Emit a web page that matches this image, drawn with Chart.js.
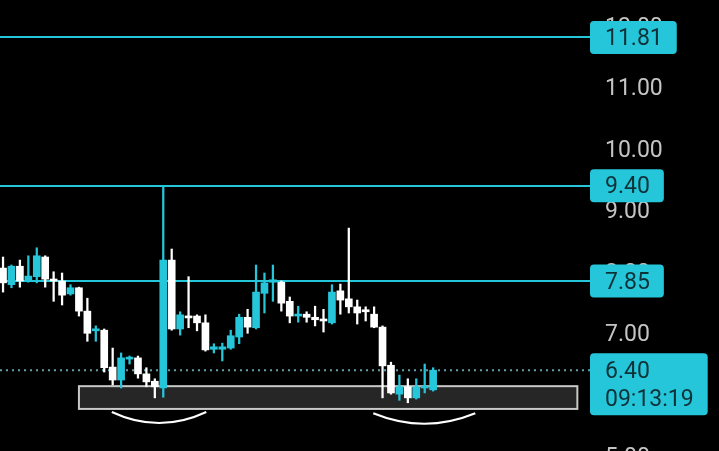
<!DOCTYPE html>
<html>
<head>
<meta charset="utf-8">
<script src="https://cdn.jsdelivr.net/npm/chart.js@4/dist/chart.umd.min.js"></script>
<style>
  html, body { margin: 0; padding: 0; background: #000; overflow: hidden; }
</style>
</head>
<body>
<canvas id="chart" width="719" height="470"></canvas>
<script>
// candles, oldest first
const opens  = [8.06, 7.79, 8.09, 7.85, 7.92, 8.24, 7.88, 7.85, 7.64, 7.74, 7.36, 7.04, 7.05, 6.45, 6.24, 6.58, 6.60, 6.34,
                6.22, 6.11, 8.19, 7.07, 7.28, 7.28, 7.17, 6.74, 6.74, 6.76, 6.94, 7.26, 7.09, 7.65, 7.83, 7.83, 7.52, 7.28,
                7.31, 7.26, 7.23, 7.17, 7.69, 7.56, 7.43, 7.38, 7.31, 7.10, 6.48, 6.01, 6.13, 5.95, 6.11, 6.08];
const highs  = [8.24, 8.11, 8.19, 8.26, 8.39, 8.26, 8.00, 7.98, 7.79, 7.75, 7.57, 7.12, 7.07, 6.76, 6.68, 6.63, 6.63, 6.44,
                6.26, 9.40, 8.37, 7.35, 7.92, 7.30, 7.30, 6.83, 6.84, 7.05, 7.31, 7.39, 8.11, 7.98, 8.11, 7.85, 7.59, 7.44,
                7.35, 7.44, 7.39, 7.79, 7.80, 8.71, 7.54, 7.43, 7.43, 7.12, 6.53, 6.32, 6.26, 6.26, 6.50, 6.44];
const lows   = [7.67, 7.74, 7.75, 7.83, 7.82, 7.75, 7.52, 7.46, 7.62, 7.28, 6.87, 6.87, 6.37, 6.16, 6.11, 6.50, 6.27, 6.13,
                5.95, 5.96, 7.05, 6.97, 7.09, 7.04, 6.71, 6.68, 6.55, 6.74, 6.83, 7.00, 7.07, 7.33, 7.52, 7.36, 7.17, 7.18,
                7.18, 7.12, 7.02, 7.15, 7.31, 7.33, 7.15, 7.20, 7.09, 5.95, 6.01, 5.91, 5.87, 5.93, 6.03, 6.06];
const closes = [7.82, 8.09, 7.85, 7.93, 8.26, 7.88, 7.85, 7.62, 7.74, 7.36, 7.00, 7.07, 6.44, 6.24, 6.60, 6.61, 6.34, 6.21,
                6.13, 8.19, 7.07, 7.30, 7.25, 7.17, 6.73, 6.78, 6.78, 6.96, 7.26, 7.10, 7.67, 7.82, 7.87, 7.49, 7.28, 7.31,
                7.26, 7.22, 7.20, 7.67, 7.54, 7.43, 7.33, 7.35, 7.10, 6.47, 6.03, 6.13, 5.95, 6.13, 6.14, 6.40];

const levels = [11.81, 9.40, 7.85];
const lastPrice = 6.40;
const countdown = '09:13:19';
const yTicks = [5, 6, 7, 8, 9, 10, 11, 12];

// drawn zone and the two "smile" marks under it, in candle index / price units
const zone = { from: 9.0, to: 68.1, top: 6.14, bottom: 5.77 };
const arcs = [
  { from: 12.9, to: 24.1, end: 5.72, low: 5.54 },
  { from: 43.9, to: 56.0, end: 5.70, low: 5.53 }
];

const CYAN = '#26c6da';
const up = opens.map((o, i) => closes[i] >= o);
const candleColors = up.map(u => u ? CYAN : '#ffffff');
const wickData = opens.map((_, i) => ({ x: i, y: [lows[i], highs[i]] }));
const bodyData = opens.map((o, i) => ({ x: i, y: [Math.min(o, closes[i]), Math.max(o, closes[i])] }));

const FONT = { family: 'Roboto', size: 23 };

const overlay = {
  id: 'overlay',
  beforeDatasetsDraw(chart) {
    const { ctx, chartArea, scales: { x, y } } = chart;
    ctx.save();

    // zone box
    const zx1 = x.getPixelForValue(zone.from), zx2 = x.getPixelForValue(zone.to);
    const zy1 = y.getPixelForValue(zone.top), zy2 = y.getPixelForValue(zone.bottom);
    ctx.fillStyle = '#262626';
    ctx.fillRect(zx1, zy1, zx2 - zx1, zy2 - zy1);
    ctx.strokeStyle = '#c8c8c8';
    ctx.lineWidth = 2;
    ctx.strokeRect(zx1, zy1, zx2 - zx1, zy2 - zy1);

    // arcs
    ctx.strokeStyle = '#ffffff';
    ctx.lineWidth = 2;
    arcs.forEach(a => {
      const x1 = x.getPixelForValue(a.from), x2 = x.getPixelForValue(a.to);
      const ye = y.getPixelForValue(a.end), yl = y.getPixelForValue(a.low);
      ctx.beginPath();
      ctx.moveTo(x1, ye);
      ctx.quadraticCurveTo((x1 + x2) / 2, 2 * yl - ye, x2, ye);
      ctx.stroke();
    });

    // last price dotted line
    const ly = y.getPixelForValue(lastPrice);
    ctx.strokeStyle = 'rgba(110,175,185,0.9)';
    ctx.lineWidth = 2;
    ctx.setLineDash([2, 4]);
    ctx.beginPath();
    ctx.moveTo(chartArea.left, ly);
    ctx.lineTo(chartArea.right, ly);
    ctx.stroke();
    ctx.setLineDash([]);

    // level lines
    ctx.strokeStyle = CYAN;
    ctx.lineWidth = 2;
    levels.forEach(v => {
      const py = Math.round(y.getPixelForValue(v));
      ctx.beginPath();
      ctx.moveTo(chartArea.left, py);
      ctx.lineTo(chartArea.right, py);
      ctx.stroke();
    });
    ctx.restore();
  },
  afterDraw(chart) {
    const { ctx, chartArea, scales: { y } } = chart;
    ctx.save();
    ctx.font = FONT.size + 'px ' + FONT.family;
    ctx.textBaseline = 'middle';
    const bx = chartArea.right;
    const tx = bx + 15;

    levels.forEach(v => {
      const py = y.getPixelForValue(v);
      const label = v.toFixed(2);
      const w = ctx.measureText(label).width;
      ctx.fillStyle = CYAN;
      ctx.beginPath();
      ctx.roundRect(bx, py - 16.5, 15 + w + 14, 33, 4);
      ctx.fill();
      ctx.fillStyle = '#0e3238';
      ctx.fillText(label, tx, py + 2);
    });

    const ly = y.getPixelForValue(lastPrice);
    const w2 = Math.max(ctx.measureText(lastPrice.toFixed(2)).width, ctx.measureText(countdown).width);
    ctx.fillStyle = CYAN;
    ctx.beginPath();
    ctx.roundRect(bx, ly - 17, 15 + w2 + 14, 62, 4);
    ctx.fill();
    ctx.fillStyle = '#0e3238';
    ctx.fillText(lastPrice.toFixed(2), tx, ly + 2);
    ctx.fillText(countdown, tx, ly + 30);
    ctx.restore();
  }
};

new Chart(document.getElementById('chart'), {
  type: 'bar',
  data: {
    datasets: [
      { data: wickData, backgroundColor: candleColors, barThickness: 1.6, grouped: false, borderWidth: 0 },
      { data: bodyData, backgroundColor: candleColors, barThickness: 7, grouped: false, borderWidth: 0, minBarLength: 2 }
    ]
  },
  options: {
    responsive: false,
    animation: false,
    layout: { padding: 0 },
    plugins: { legend: { display: false }, tooltip: { enabled: false } },
    scales: {
      x: { type: 'linear', min: -0.36, max: 69.6, offset: false, display: false },
      y: {
        position: 'right',
        min: 4.777,
        max: 12.419,
        grid: { display: false, drawTicks: false },
        border: { display: false },
        afterBuildTicks: scale => { scale.ticks = yTicks.map(v => ({ value: v })); },
        afterFit: scale => {
          scale.width = 129;
          scale.paddingTop = 0;
          scale.paddingBottom = 0;
        },
        ticks: {
          color: '#c4c4c4',
          font: FONT,
          padding: 15,
          labelOffset: 2,
          callback: v => Number(v).toFixed(2)
        }
      }
    }
  },
  plugins: [overlay]
});
</script>
</body>
</html>
